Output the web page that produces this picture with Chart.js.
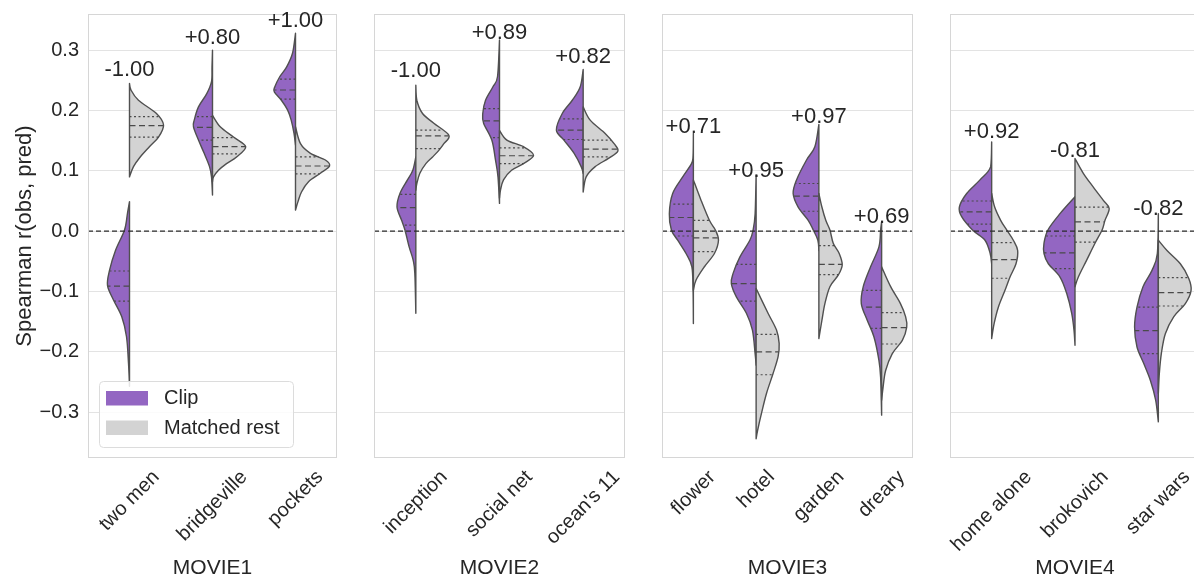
<!DOCTYPE html>
<html>
<head>
<meta charset="utf-8">
<script src="https://cdn.jsdelivr.net/npm/chart.js@4.4.1/dist/chart.umd.min.js"></script>
<style>
  html, body { margin: 0; padding: 0; background: #fff; overflow: hidden; width: 1194px; height: 581px; position: relative; }
  canvas { position: absolute; top: 0; }
</style>
</head>
<body>
<canvas id="c1"></canvas>
<canvas id="c2"></canvas>
<canvas id="c3"></canvas>
<canvas id="c4"></canvas>
<script>
// ---- data ----
const movieNames = ['MOVIE1', 'MOVIE2', 'MOVIE3', 'MOVIE4'];
const clipNames = [
  ['two men', 'bridgeville', 'pockets'],
  ['inception', 'social net', "ocean's 11"],
  ['flower', 'hotel', 'garden', 'dreary'],
  ['home alone', 'brokovich', 'star wars']
];
const legendLabels = ['Clip', 'Matched rest'];
const yTitle = 'Spearman r(obs, pred)';
const yTicks = [-0.3, -0.2, -0.1, 0, 0.1, 0.2, 0.3];
const yTickLabels = ['\u22120.3', '\u22120.2', '\u22120.1', '0.0', '0.1', '0.2', '0.3'];
const yRange = [-0.376, 0.36];

// correlation printed above each violin, and the y value of its baseline
const corrLabels = [
  ['-1.00', '+0.80', '+1.00'],
  ['-1.00', '+0.89', '+0.82'],
  ['+0.71', '+0.95', '+0.97', '+0.69'],
  ['+0.92', '-0.81', '-0.82']
];
const corrLabelY = [
  [0.257, 0.311, 0.339],
  [0.255, 0.318, 0.278],
  [0.163, 0.090, 0.180, 0.014],
  [0.154, 0.123, 0.027]
];

// density profiles: [r value, density (as half width in category units)]
const clipDensity = [
  [
    [[0.049,0],[0.030,0.024],[0.002,0.06],[-0.032,0.169],[-0.065,0.241],[-0.090,0.265],[-0.114,0.193],[-0.142,0.093],[-0.175,0.036],[-0.219,0.012],[-0.257,0]],
    [[0.300,0],[0.272,0.006],[0.248,0.012],[0.228,0.069],[0.206,0.169],[0.184,0.22],[0.173,0.229],[0.151,0.169],[0.129,0.10],[0.107,0.036],[0.090,0.012],[0.060,0]],
    [[0.328,0],[0.295,0.036],[0.272,0.108],[0.256,0.19],[0.239,0.25],[0.231,0.255],[0.217,0.17],[0.201,0.096],[0.184,0.052],[0.162,0.018],[0.143,0]]
  ],
  [
    [[0.123,0],[0.101,0.036],[0.085,0.10],[0.0625,0.19],[0.040,0.225],[0.018,0.17],[0.002,0.13],[-0.026,0.08],[-0.048,0.032],[-0.070,0.012],[-0.136,0]],
    [[0.317,0],[0.256,0.024],[0.239,0.08],[0.217,0.167],[0.195,0.20],[0.179,0.19],[0.151,0.092],[0.118,0.048],[0.090,0.018],[0.046,0]],
    [[0.268,0],[0.239,0.036],[0.217,0.13],[0.195,0.25],[0.1675,0.32],[0.151,0.23],[0.129,0.108],[0.107,0.024],[0.096,0]]
  ],
  [
    [[0.162,0],[0.125,0.005],[0.112,0.03],[0.090,0.17],[0.0625,0.33],[0.029,0.383],[0.002,0.35],[-0.015,0.25],[-0.037,0.117],[-0.059,0.024],[-0.098,0.005],[-0.153,0]],
    [[0.093,0],[0.029,0.016],[0.002,0.048],[-0.015,0.10],[-0.043,0.26],[-0.070,0.367],[-0.087,0.395],[-0.109,0.315],[-0.136,0.155],[-0.164,0.059],[-0.203,0.016],[-0.222,0]],
    [[0.177,0],[0.140,0.064],[0.118,0.197],[0.085,0.356],[0.0625,0.41],[0.040,0.33],[0.018,0.17],[0.002,0.09],[-0.015,0.016],[-0.032,0]],
    [[0.0155,0],[0.002,0.016],[-0.026,0.043],[-0.059,0.176],[-0.092,0.293],[-0.120,0.324],[-0.148,0.228],[-0.175,0.123],[-0.214,0.043],[-0.242,0.016],[-0.305,0]]
  ],
  [
    [[0.148,0],[0.107,0.012],[0.085,0.14],[0.0625,0.30],[0.040,0.388],[0.024,0.36],[0.002,0.23],[-0.015,0.08],[-0.037,0.018],[-0.054,0]],
    [[0.057,0],[0.029,0.18],[0.002,0.325],[-0.020,0.372],[-0.037,0.372],[-0.054,0.32],[-0.076,0.18],[-0.103,0.10],[-0.136,0.04],[-0.164,0.012],[-0.189,0]],
    [[0.029,0],[-0.037,0.012],[-0.065,0.076],[-0.092,0.184],[-0.126,0.256],[-0.159,0.285],[-0.192,0.256],[-0.219,0.176],[-0.247,0.096],[-0.280,0.032],[-0.316,0]]
  ]
];
const restDensity = [
  [
    [[0.245,0],[0.234,0.018],[0.217,0.108],[0.195,0.325],[0.176,0.41],[0.156,0.35],[0.140,0.24],[0.123,0.129],[0.107,0.048],[0.090,0]],
    [[0.192,0],[0.173,0.093],[0.156,0.253],[0.140,0.40],[0.123,0.29],[0.112,0.169],[0.101,0.072],[0.090,0.012],[0.082,0]],
    [[0.173,0],[0.145,0.06],[0.129,0.18],[0.118,0.36],[0.108,0.41],[0.096,0.30],[0.082,0.157],[0.065,0.072],[0.049,0.03],[0.035,0]]
  ],
  [
    [[0.242,0],[0.217,0.012],[0.195,0.08],[0.179,0.215],[0.159,0.395],[0.145,0.335],[0.134,0.275],[0.123,0.20],[0.112,0.12],[0.096,0.048],[0.079,0.012],[0.068,0]],
    [[0.167,0],[0.151,0.088],[0.140,0.287],[0.126,0.407],[0.112,0.287],[0.101,0.144],[0.085,0.048],[0.068,0.012],[0.055,0]],
    [[0.206,0],[0.184,0.084],[0.162,0.263],[0.145,0.37],[0.133,0.415],[0.121,0.307],[0.107,0.144],[0.090,0.036],[0.065,0]]
  ],
  [
    [[0.085,0],[0.051,0.123],[0.018,0.255],[0.002,0.35],[-0.015,0.40],[-0.037,0.335],[-0.059,0.176],[-0.081,0.043],[-0.098,0]],
    [[-0.095,0],[-0.136,0.19],[-0.164,0.325],[-0.186,0.367],[-0.208,0.35],[-0.236,0.27],[-0.269,0.165],[-0.302,0.085],[-0.330,0.024],[-0.344,0]],
    [[0.0625,0],[0.040,0.048],[0.018,0.11],[0.002,0.176],[-0.020,0.229],[-0.037,0.324],[-0.056,0.372],[-0.073,0.308],[-0.092,0.176],[-0.120,0.096],[-0.148,0.048],[-0.178,0]],
    [[-0.059,0],[-0.092,0.144],[-0.120,0.30],[-0.142,0.383],[-0.159,0.40],[-0.181,0.33],[-0.203,0.17],[-0.231,0.064],[-0.258,0.024],[-0.280,0]]
  ],
  [
    [[0.0625,0],[0.040,0.036],[0.018,0.108],[0.002,0.18],[-0.015,0.26],[-0.032,0.312],[-0.054,0.292],[-0.076,0.22],[-0.098,0.16],[-0.126,0.08],[-0.153,0.03],[-0.178,0]],
    [[0.1205,0],[0.096,0.10],[0.073,0.22],[0.051,0.34],[0.0376,0.41],[0.018,0.36],[0.002,0.325],[-0.020,0.24],[-0.048,0.14],[-0.076,0.04],[-0.092,0]],
    [[-0.015,0],[-0.032,0.104],[-0.054,0.264],[-0.078,0.364],[-0.098,0.393],[-0.120,0.324],[-0.142,0.184],[-0.170,0.084],[-0.203,0.036],[-0.236,0.012],[-0.269,0]]
  ]
];

// quartiles [q1, median, q3]
const clipQuartiles = [
  [[-0.116,-0.091,-0.066],[0.151,0.172,0.190],[0.219,0.234,0.252]],
  [[0.010,0.039,0.061],[0.155,0.183,0.203],[0.152,0.1675,0.186]],
  [[-0.008,0.0227,0.045],[-0.116,-0.087,-0.055],[0.033,0.058,0.079],[-0.161,-0.126,-0.098]],
  [[0.0116,0.032,0.050],[-0.062,-0.036,-0.008],[-0.203,-0.165,-0.126]]
];
const restQuartiles = [
  [[0.156,0.175,0.190],[0.128,0.140,0.155],[0.095,0.108,0.123]],
  [[0.137,0.158,0.1675],[0.112,0.125,0.138],[0.123,0.136,0.151]],
  [[-0.034,-0.011,0.018],[-0.238,-0.200,-0.171],[-0.072,-0.055,-0.024],[-0.187,-0.160,-0.135]],
  [[-0.078,-0.047,-0.019],[-0.018,0.0155,0.040],[-0.124,-0.102,-0.077]]
];

// ---- styles / layout ----
const FONT = '"Liberation Sans", Arial, Helvetica, sans-serif';
const TEXT = '#262626';
const GRID = '#e3e3e3';
const FRAME = '#d6d6d6';
const CLIP_COLOR = '#9366c2';
const REST_COLOR = '#d3d3d3';
const EDGE = '#505050';
const INNER = '#4a4a4a';

const panels = [
  { left: 0,   plotLeft: 88,  plotRight: 337 },
  { left: 345, plotLeft: 374, plotRight: 625 },
  { left: 633, plotLeft: 662, plotRight: 913 },
  { left: 921, plotLeft: 950, plotRight: 1200 }
];

function widthAt(knots, v) {
  for (let k = 0; k < knots.length - 1; k++) {
    const a = knots[k], b = knots[k + 1];
    if (v <= a[0] && v >= b[0]) {
      const t = (a[0] - v) / (a[0] - b[0]);
      return a[1] + t * (b[1] - a[1]);
    }
  }
  return 0;
}

function drawHalf(ctx, xs, ys, cx, unit, knots, quarts, side, color) {
  const pts = knots.map(k => ({ x: cx + side * k[1] * unit, y: ys.getPixelForValue(k[0]) }));
  const clampX = x => side < 0 ? Math.min(x, cx) : Math.max(x, cx);
  ctx.beginPath();
  ctx.moveTo(cx, pts[0].y);
  ctx.lineTo(pts[0].x, pts[0].y);
  for (let i = 0; i < pts.length - 1; i++) {
    const p0 = pts[i - 1] || pts[i], p1 = pts[i], p2 = pts[i + 1], p3 = pts[i + 2] || p2;
    ctx.bezierCurveTo(
      clampX(p1.x + (p2.x - p0.x) / 6), p1.y + (p2.y - p0.y) / 6,
      clampX(p2.x - (p3.x - p1.x) / 6), p2.y - (p3.y - p1.y) / 6,
      p2.x, p2.y);
  }
  ctx.lineTo(cx, pts[pts.length - 1].y);
  ctx.closePath();
  ctx.fillStyle = color;
  ctx.fill();
  ctx.strokeStyle = EDGE;
  ctx.lineWidth = 1.4;
  ctx.lineJoin = 'round';
  ctx.stroke();

  // inner quartile lines
  ctx.strokeStyle = INNER;
  ctx.lineWidth = 1.2;
  quarts.forEach((q, qi) => {
    const w = widthAt(knots, q) * unit;
    const y = ys.getPixelForValue(q);
    ctx.setLineDash(qi === 1 ? [6, 3.5] : [2, 2.5]);
    ctx.beginPath();
    ctx.moveTo(cx, y);
    ctx.lineTo(cx + side * w, y);
    ctx.stroke();
  });
  ctx.setLineDash([]);
}

function violinPlugin(i) {
  return {
    id: 'violins' + i,
    afterDraw(chart) {
      const ctx = chart.ctx;
      const xs = chart.scales.x, ys = chart.scales.y;
      const area = chart.chartArea;
      const unit = xs.getPixelForValue(1) - xs.getPixelForValue(0);
      ctx.save();
      ctx.beginPath();
      ctx.rect(area.left, area.top, area.right - area.left, area.bottom - area.top);
      ctx.clip();
      clipNames[i].forEach((name, j) => {
        const cx = xs.getPixelForValue(j);
        drawHalf(ctx, xs, ys, cx, unit, clipDensity[i][j], clipQuartiles[i][j], -1, CLIP_COLOR);
        drawHalf(ctx, xs, ys, cx, unit, restDensity[i][j], restQuartiles[i][j], 1, REST_COLOR);
      });
      // zero line
      const y0 = ys.getPixelForValue(0);
      ctx.strokeStyle = '#2b2b2b';
      ctx.lineWidth = 1.3;
      ctx.setLineDash([5, 3]);
      ctx.beginPath();
      ctx.moveTo(area.left, y0);
      ctx.lineTo(area.right, y0);
      ctx.stroke();
      ctx.setLineDash([]);
      ctx.restore();

      // frame
      ctx.save();
      ctx.strokeStyle = FRAME;
      ctx.lineWidth = 1;
      ctx.strokeRect(area.left + 0.5, area.top + 0.5, area.right - area.left - 1, area.bottom - area.top - 1);

      // correlation labels
      ctx.fillStyle = TEXT;
      ctx.font = '22px ' + FONT;
      ctx.textAlign = 'center';
      ctx.textBaseline = 'alphabetic';
      corrLabels[i].forEach((t, j) => {
        ctx.fillText(t, xs.getPixelForValue(j), ys.getPixelForValue(corrLabelY[i][j]));
      });

      // rotated category labels, centred under each tick
      ctx.font = '20px ' + FONT;
      ctx.textBaseline = 'middle';
      const fh = 20;
      xs.getLabels().forEach((t, j) => {
        const w = ctx.measureText(t).width;
        const half = (w + fh) * Math.SQRT1_2 / 2;
        ctx.save();
        ctx.translate(xs.getPixelForValue(j), area.bottom + 9 + half);
        ctx.rotate(-Math.PI / 4);
        ctx.fillText(t, 0, 0);
        ctx.restore();
      });

      // legend (first panel only)
      if (i === 0) {
        const lx = 99, ly = 381, lw = 194, lh = 66;
        ctx.beginPath();
        ctx.roundRect(lx + 0.5, ly + 0.5, lw, lh, 4);
        ctx.fillStyle = 'rgba(255,255,255,0.85)';
        ctx.fill();
        ctx.strokeStyle = '#dcdcdc';
        ctx.stroke();
        const colors = [CLIP_COLOR, REST_COLOR];
        ctx.font = '20px ' + FONT;
        ctx.textAlign = 'left';
        ctx.textBaseline = 'middle';
        legendLabels.forEach((t, k) => {
          const ry = ly + 10 + k * 29.5;
          ctx.fillStyle = colors[k];
          ctx.fillRect(lx + 7, ry, 42, 14.5);
          ctx.fillStyle = TEXT;
          ctx.fillText(t, lx + 65, ry + 7.5);
        });
      }
      ctx.restore();
    }
  };
}

function makeChart(p, i) {
  const el = document.getElementById('c' + (i + 1));
  el.width = p.plotRight + 4 - p.left;
  el.height = 581;
  el.style.left = p.left + 'px';
  return new Chart(el, {
    type: 'line',
    data: { labels: clipNames[i], datasets: [] },
    options: {
      responsive: false,
      animation: false,
      layout: { padding: { top: 14, right: 4, bottom: 0, left: 0 } },
      plugins: { legend: { display: false }, tooltip: { enabled: false } },
      scales: {
        x: {
          type: 'category',
          offset: true,
          grid: { display: false },
          border: { display: false },
          ticks: { display: false },
          title: {
            display: true, text: movieNames[i], color: TEXT,
            font: { family: FONT, size: 21, lineHeight: 1.2 },
            padding: { top: 0, bottom: 0 }
          },
          afterFit: s => { s.height = 123; s.paddingLeft = 0; s.paddingRight = 0; }
        },
        y: {
          min: yRange[0],
          max: yRange[1],
          grid: { color: GRID, lineWidth: 1, drawTicks: false },
          border: { display: false },
          ticks: {
            display: i === 0,
            padding: 9,
            color: TEXT,
            font: { family: FONT, size: 20 },
            callback: (v, k) => yTickLabels[k]
          },
          afterBuildTicks: s => { s.ticks = yTicks.map(v => ({ value: v })); },
          title: {
            display: i === 0, text: yTitle, color: TEXT,
            font: { family: FONT, size: 22, lineHeight: 1.2 },
            padding: { top: 12, bottom: 0 }
          },
          afterFit: s => { s.width = p.plotLeft - p.left; s.paddingTop = 0; s.paddingBottom = 0; }
        }
      }
    },
    plugins: [violinPlugin(i)]
  });
}

panels.forEach((p, i) => makeChart(p, i));
</script>
</body>
</html>
